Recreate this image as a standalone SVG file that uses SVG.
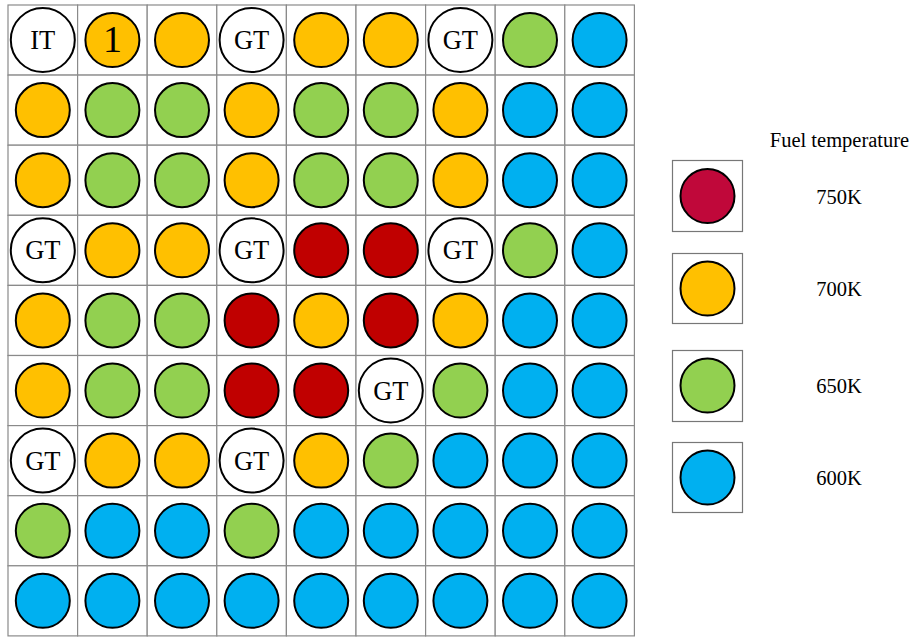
<svg xmlns="http://www.w3.org/2000/svg" width="915" height="640" viewBox="0 0 915 640">
<style>
.cell{fill:#fff;stroke:#8a8a8a;stroke-width:1.2}
.c{stroke:#000;stroke-width:2}
.R{fill:#C00000}.O{fill:#FFC000}.G{fill:#92D050}.B{fill:#00B0F0}.W{fill:#fff}.M{fill:#C0083A}
.t{font-family:"Liberation Serif","Times New Roman",serif;font-size:26.5px;fill:#000;text-anchor:middle;dominant-baseline:central}
.n{font-size:38px}
.lab{font-family:"Liberation Serif","Times New Roman",serif;font-size:20.5px;fill:#000;text-anchor:middle}
.lbox{fill:#fff;stroke:#777;stroke-width:1.2}
</style>
<rect width="915" height="640" fill="#fff"/>
<g id="grid">
<g id="r1">
<g id="c1-1"><rect class="cell" x="8" y="5" width="69.6" height="70.1"/><circle class="c W" cx="42.8" cy="40" r="32"/><text class="t" x="42.8" y="40">IT</text></g>
<g id="c1-2"><rect class="cell" x="77.6" y="5" width="69.6" height="70.1"/><circle class="c O" cx="112.4" cy="40" r="27"/><text class="t n" x="112.4" y="39">1</text></g>
<g id="c1-3"><rect class="cell" x="147.2" y="5" width="69.6" height="70.1"/><circle class="c O" cx="182" cy="40" r="27"/></g>
<g id="c1-4"><rect class="cell" x="216.8" y="5" width="69.6" height="70.1"/><circle class="c W" cx="251.6" cy="40" r="32"/><text class="t" x="251.6" y="40">GT</text></g>
<g id="c1-5"><rect class="cell" x="286.4" y="5" width="69.6" height="70.1"/><circle class="c O" cx="321.2" cy="40" r="27"/></g>
<g id="c1-6"><rect class="cell" x="356" y="5" width="69.6" height="70.1"/><circle class="c O" cx="390.8" cy="40" r="27"/></g>
<g id="c1-7"><rect class="cell" x="425.6" y="5" width="69.6" height="70.1"/><circle class="c W" cx="460.4" cy="40" r="32"/><text class="t" x="460.4" y="40">GT</text></g>
<g id="c1-8"><rect class="cell" x="495.2" y="5" width="69.6" height="70.1"/><circle class="c G" cx="530" cy="40" r="27"/></g>
<g id="c1-9"><rect class="cell" x="564.8" y="5" width="69.6" height="70.1"/><circle class="c B" cx="599.6" cy="40" r="27"/></g>
</g>
<g id="r2">
<g id="c2-1"><rect class="cell" x="8" y="75.1" width="69.6" height="70.1"/><circle class="c O" cx="42.8" cy="110.1" r="27"/></g>
<g id="c2-2"><rect class="cell" x="77.6" y="75.1" width="69.6" height="70.1"/><circle class="c G" cx="112.4" cy="110.1" r="27"/></g>
<g id="c2-3"><rect class="cell" x="147.2" y="75.1" width="69.6" height="70.1"/><circle class="c G" cx="182" cy="110.1" r="27"/></g>
<g id="c2-4"><rect class="cell" x="216.8" y="75.1" width="69.6" height="70.1"/><circle class="c O" cx="251.6" cy="110.1" r="27"/></g>
<g id="c2-5"><rect class="cell" x="286.4" y="75.1" width="69.6" height="70.1"/><circle class="c G" cx="321.2" cy="110.1" r="27"/></g>
<g id="c2-6"><rect class="cell" x="356" y="75.1" width="69.6" height="70.1"/><circle class="c G" cx="390.8" cy="110.1" r="27"/></g>
<g id="c2-7"><rect class="cell" x="425.6" y="75.1" width="69.6" height="70.1"/><circle class="c O" cx="460.4" cy="110.1" r="27"/></g>
<g id="c2-8"><rect class="cell" x="495.2" y="75.1" width="69.6" height="70.1"/><circle class="c B" cx="530" cy="110.1" r="27"/></g>
<g id="c2-9"><rect class="cell" x="564.8" y="75.1" width="69.6" height="70.1"/><circle class="c B" cx="599.6" cy="110.1" r="27"/></g>
</g>
<g id="r3">
<g id="c3-1"><rect class="cell" x="8" y="145.2" width="69.6" height="70.1"/><circle class="c O" cx="42.8" cy="180.2" r="27"/></g>
<g id="c3-2"><rect class="cell" x="77.6" y="145.2" width="69.6" height="70.1"/><circle class="c G" cx="112.4" cy="180.2" r="27"/></g>
<g id="c3-3"><rect class="cell" x="147.2" y="145.2" width="69.6" height="70.1"/><circle class="c G" cx="182" cy="180.2" r="27"/></g>
<g id="c3-4"><rect class="cell" x="216.8" y="145.2" width="69.6" height="70.1"/><circle class="c O" cx="251.6" cy="180.2" r="27"/></g>
<g id="c3-5"><rect class="cell" x="286.4" y="145.2" width="69.6" height="70.1"/><circle class="c G" cx="321.2" cy="180.2" r="27"/></g>
<g id="c3-6"><rect class="cell" x="356" y="145.2" width="69.6" height="70.1"/><circle class="c G" cx="390.8" cy="180.2" r="27"/></g>
<g id="c3-7"><rect class="cell" x="425.6" y="145.2" width="69.6" height="70.1"/><circle class="c O" cx="460.4" cy="180.2" r="27"/></g>
<g id="c3-8"><rect class="cell" x="495.2" y="145.2" width="69.6" height="70.1"/><circle class="c B" cx="530" cy="180.2" r="27"/></g>
<g id="c3-9"><rect class="cell" x="564.8" y="145.2" width="69.6" height="70.1"/><circle class="c B" cx="599.6" cy="180.2" r="27"/></g>
</g>
<g id="r4">
<g id="c4-1"><rect class="cell" x="8" y="215.3" width="69.6" height="70.1"/><circle class="c W" cx="42.8" cy="250.3" r="32"/><text class="t" x="42.8" y="250.3">GT</text></g>
<g id="c4-2"><rect class="cell" x="77.6" y="215.3" width="69.6" height="70.1"/><circle class="c O" cx="112.4" cy="250.3" r="27"/></g>
<g id="c4-3"><rect class="cell" x="147.2" y="215.3" width="69.6" height="70.1"/><circle class="c O" cx="182" cy="250.3" r="27"/></g>
<g id="c4-4"><rect class="cell" x="216.8" y="215.3" width="69.6" height="70.1"/><circle class="c W" cx="251.6" cy="250.3" r="32"/><text class="t" x="251.6" y="250.3">GT</text></g>
<g id="c4-5"><rect class="cell" x="286.4" y="215.3" width="69.6" height="70.1"/><circle class="c R" cx="321.2" cy="250.3" r="27"/></g>
<g id="c4-6"><rect class="cell" x="356" y="215.3" width="69.6" height="70.1"/><circle class="c R" cx="390.8" cy="250.3" r="27"/></g>
<g id="c4-7"><rect class="cell" x="425.6" y="215.3" width="69.6" height="70.1"/><circle class="c W" cx="460.4" cy="250.3" r="32"/><text class="t" x="460.4" y="250.3">GT</text></g>
<g id="c4-8"><rect class="cell" x="495.2" y="215.3" width="69.6" height="70.1"/><circle class="c G" cx="530" cy="250.3" r="27"/></g>
<g id="c4-9"><rect class="cell" x="564.8" y="215.3" width="69.6" height="70.1"/><circle class="c B" cx="599.6" cy="250.3" r="27"/></g>
</g>
<g id="r5">
<g id="c5-1"><rect class="cell" x="8" y="285.4" width="69.6" height="70.1"/><circle class="c O" cx="42.8" cy="320.4" r="27"/></g>
<g id="c5-2"><rect class="cell" x="77.6" y="285.4" width="69.6" height="70.1"/><circle class="c G" cx="112.4" cy="320.4" r="27"/></g>
<g id="c5-3"><rect class="cell" x="147.2" y="285.4" width="69.6" height="70.1"/><circle class="c G" cx="182" cy="320.4" r="27"/></g>
<g id="c5-4"><rect class="cell" x="216.8" y="285.4" width="69.6" height="70.1"/><circle class="c R" cx="251.6" cy="320.4" r="27"/></g>
<g id="c5-5"><rect class="cell" x="286.4" y="285.4" width="69.6" height="70.1"/><circle class="c O" cx="321.2" cy="320.4" r="27"/></g>
<g id="c5-6"><rect class="cell" x="356" y="285.4" width="69.6" height="70.1"/><circle class="c R" cx="390.8" cy="320.4" r="27"/></g>
<g id="c5-7"><rect class="cell" x="425.6" y="285.4" width="69.6" height="70.1"/><circle class="c O" cx="460.4" cy="320.4" r="27"/></g>
<g id="c5-8"><rect class="cell" x="495.2" y="285.4" width="69.6" height="70.1"/><circle class="c B" cx="530" cy="320.4" r="27"/></g>
<g id="c5-9"><rect class="cell" x="564.8" y="285.4" width="69.6" height="70.1"/><circle class="c B" cx="599.6" cy="320.4" r="27"/></g>
</g>
<g id="r6">
<g id="c6-1"><rect class="cell" x="8" y="355.5" width="69.6" height="70.1"/><circle class="c O" cx="42.8" cy="390.5" r="27"/></g>
<g id="c6-2"><rect class="cell" x="77.6" y="355.5" width="69.6" height="70.1"/><circle class="c G" cx="112.4" cy="390.5" r="27"/></g>
<g id="c6-3"><rect class="cell" x="147.2" y="355.5" width="69.6" height="70.1"/><circle class="c G" cx="182" cy="390.5" r="27"/></g>
<g id="c6-4"><rect class="cell" x="216.8" y="355.5" width="69.6" height="70.1"/><circle class="c R" cx="251.6" cy="390.5" r="27"/></g>
<g id="c6-5"><rect class="cell" x="286.4" y="355.5" width="69.6" height="70.1"/><circle class="c R" cx="321.2" cy="390.5" r="27"/></g>
<g id="c6-6"><rect class="cell" x="356" y="355.5" width="69.6" height="70.1"/><circle class="c W" cx="390.8" cy="390.5" r="32"/><text class="t" x="390.8" y="390.5">GT</text></g>
<g id="c6-7"><rect class="cell" x="425.6" y="355.5" width="69.6" height="70.1"/><circle class="c G" cx="460.4" cy="390.5" r="27"/></g>
<g id="c6-8"><rect class="cell" x="495.2" y="355.5" width="69.6" height="70.1"/><circle class="c B" cx="530" cy="390.5" r="27"/></g>
<g id="c6-9"><rect class="cell" x="564.8" y="355.5" width="69.6" height="70.1"/><circle class="c B" cx="599.6" cy="390.5" r="27"/></g>
</g>
<g id="r7">
<g id="c7-1"><rect class="cell" x="8" y="425.6" width="69.6" height="70.1"/><circle class="c W" cx="42.8" cy="460.6" r="32"/><text class="t" x="42.8" y="460.6">GT</text></g>
<g id="c7-2"><rect class="cell" x="77.6" y="425.6" width="69.6" height="70.1"/><circle class="c O" cx="112.4" cy="460.6" r="27"/></g>
<g id="c7-3"><rect class="cell" x="147.2" y="425.6" width="69.6" height="70.1"/><circle class="c O" cx="182" cy="460.6" r="27"/></g>
<g id="c7-4"><rect class="cell" x="216.8" y="425.6" width="69.6" height="70.1"/><circle class="c W" cx="251.6" cy="460.6" r="32"/><text class="t" x="251.6" y="460.6">GT</text></g>
<g id="c7-5"><rect class="cell" x="286.4" y="425.6" width="69.6" height="70.1"/><circle class="c O" cx="321.2" cy="460.6" r="27"/></g>
<g id="c7-6"><rect class="cell" x="356" y="425.6" width="69.6" height="70.1"/><circle class="c G" cx="390.8" cy="460.6" r="27"/></g>
<g id="c7-7"><rect class="cell" x="425.6" y="425.6" width="69.6" height="70.1"/><circle class="c B" cx="460.4" cy="460.6" r="27"/></g>
<g id="c7-8"><rect class="cell" x="495.2" y="425.6" width="69.6" height="70.1"/><circle class="c B" cx="530" cy="460.6" r="27"/></g>
<g id="c7-9"><rect class="cell" x="564.8" y="425.6" width="69.6" height="70.1"/><circle class="c B" cx="599.6" cy="460.6" r="27"/></g>
</g>
<g id="r8">
<g id="c8-1"><rect class="cell" x="8" y="495.7" width="69.6" height="70.1"/><circle class="c G" cx="42.8" cy="530.7" r="27"/></g>
<g id="c8-2"><rect class="cell" x="77.6" y="495.7" width="69.6" height="70.1"/><circle class="c B" cx="112.4" cy="530.7" r="27"/></g>
<g id="c8-3"><rect class="cell" x="147.2" y="495.7" width="69.6" height="70.1"/><circle class="c B" cx="182" cy="530.7" r="27"/></g>
<g id="c8-4"><rect class="cell" x="216.8" y="495.7" width="69.6" height="70.1"/><circle class="c G" cx="251.6" cy="530.7" r="27"/></g>
<g id="c8-5"><rect class="cell" x="286.4" y="495.7" width="69.6" height="70.1"/><circle class="c B" cx="321.2" cy="530.7" r="27"/></g>
<g id="c8-6"><rect class="cell" x="356" y="495.7" width="69.6" height="70.1"/><circle class="c B" cx="390.8" cy="530.7" r="27"/></g>
<g id="c8-7"><rect class="cell" x="425.6" y="495.7" width="69.6" height="70.1"/><circle class="c B" cx="460.4" cy="530.7" r="27"/></g>
<g id="c8-8"><rect class="cell" x="495.2" y="495.7" width="69.6" height="70.1"/><circle class="c B" cx="530" cy="530.7" r="27"/></g>
<g id="c8-9"><rect class="cell" x="564.8" y="495.7" width="69.6" height="70.1"/><circle class="c B" cx="599.6" cy="530.7" r="27"/></g>
</g>
<g id="r9">
<g id="c9-1"><rect class="cell" x="8" y="565.8" width="69.6" height="70.1"/><circle class="c B" cx="42.8" cy="600.8" r="27"/></g>
<g id="c9-2"><rect class="cell" x="77.6" y="565.8" width="69.6" height="70.1"/><circle class="c B" cx="112.4" cy="600.8" r="27"/></g>
<g id="c9-3"><rect class="cell" x="147.2" y="565.8" width="69.6" height="70.1"/><circle class="c B" cx="182" cy="600.8" r="27"/></g>
<g id="c9-4"><rect class="cell" x="216.8" y="565.8" width="69.6" height="70.1"/><circle class="c B" cx="251.6" cy="600.8" r="27"/></g>
<g id="c9-5"><rect class="cell" x="286.4" y="565.8" width="69.6" height="70.1"/><circle class="c B" cx="321.2" cy="600.8" r="27"/></g>
<g id="c9-6"><rect class="cell" x="356" y="565.8" width="69.6" height="70.1"/><circle class="c B" cx="390.8" cy="600.8" r="27"/></g>
<g id="c9-7"><rect class="cell" x="425.6" y="565.8" width="69.6" height="70.1"/><circle class="c B" cx="460.4" cy="600.8" r="27"/></g>
<g id="c9-8"><rect class="cell" x="495.2" y="565.8" width="69.6" height="70.1"/><circle class="c B" cx="530" cy="600.8" r="27"/></g>
<g id="c9-9"><rect class="cell" x="564.8" y="565.8" width="69.6" height="70.1"/><circle class="c B" cx="599.6" cy="600.8" r="27"/></g>
</g>
</g>
<g id="legend">
<text class="lab" x="839.5" y="147" font-size="19.5">Fuel temperature</text>
<g id="leg750"><rect class="lbox" x="672.5" y="160.5" width="70" height="71"/><circle class="c M" cx="707.5" cy="196" r="27"/><text class="lab" x="839" y="204">750K</text></g>
<g id="leg700"><rect class="lbox" x="672.5" y="253.5" width="70" height="70"/><circle class="c O" cx="707.5" cy="288.5" r="27"/><text class="lab" x="839" y="296">700K</text></g>
<g id="leg650"><rect class="lbox" x="672.5" y="350.5" width="70" height="71"/><circle class="c G" cx="707.5" cy="385.5" r="27"/><text class="lab" x="839" y="393">650K</text></g>
<g id="leg600"><rect class="lbox" x="672.5" y="442.5" width="70" height="70"/><circle class="c B" cx="707.5" cy="477.5" r="27"/><text class="lab" x="839" y="485">600K</text></g>
</g>
</svg>
